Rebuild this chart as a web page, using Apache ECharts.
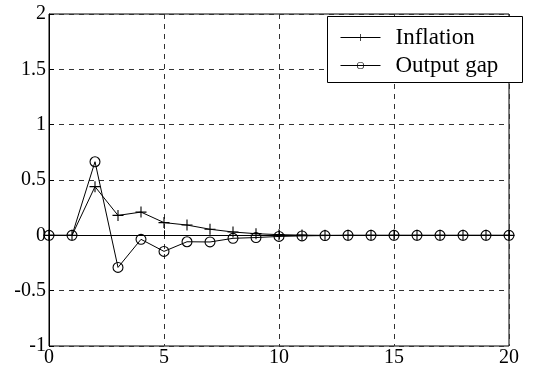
<!DOCTYPE html>
<html>
<head>
<meta charset="utf-8">
<script src="https://cdn.jsdelivr.net/npm/echarts@6/dist/echarts.min.js"></script>
<style>
html,body{margin:0;padding:0;background:#fff;}
#main{width:539px;height:378px;}
</style>
</head>
<body>
<div id="main"></div>
<script>
var periods = [0,1,2,3,4,5,6,7,8,9,10,11,12,13,14,15,16,17,18,19,20];
var inflation = [0,0,0.44,0.18,0.21,0.115,0.093,0.055,0.03,0.015,0.006,0.002,0,0,0,0,0,0,0,0,0];
var outputGap = [0,0,0.665,-0.29,-0.036,-0.145,-0.058,-0.06,-0.027,-0.02,-0.01,-0.005,-0.002,0,0,0,0,0,0,0,0];
var seriesNames = ['Inflation','Output gap'];

var font = 'Liberation Serif';
// marker shapes like matlab: '+' and an open ring (line shows through)
var plus = 'path://M4.5,0h1v10h-1z M0,4.5h10v1h-10z';
var ring = 'path://M10,5A5,5,0,1,1,0,5A5,5,0,1,1,10,5Z M9,5A4,4,0,1,0,1,5A4,4,0,1,0,9,5Z';

function pairs(ys){
  return periods.map(function(x,i){ return [x, ys[i]]; });
}

var myChart = echarts.init(document.getElementById('main'));
var dash = {show:true, lineStyle:{color:'#333', width:1, type:[5,5]}};

var option = {
  animation:false,
  backgroundColor:'#fff',
  grid:{left:49, right:30, top:14, bottom:32, show:true, borderColor:'#000', borderWidth:1},
  graphic:[{
    type:'rect', left:327, top:16, z:90,
    shape:{width:195, height:66},
    style:{fill:'#fff', stroke:'#000', lineWidth:1}
  }],
  legend:{
    orient:'vertical', left:340, top:25.5,
    padding:0,
    itemGap:4,
    itemWidth:40, itemHeight:9,
    z:100,
    lineStyle:{width:1},
    textStyle:{fontFamily:font, fontSize:23, lineHeight:24, color:'#000', padding:[0,0,0,10]},
    data:seriesNames
  },
  xAxis:{
    type:'value', min:0, max:20, interval:5,
    axisLine:{show:true, lineStyle:{color:'#000'}},
    axisTick:{show:true, inside:true, length:5, lineStyle:{color:'#000'}},
    axisLabel:{fontFamily:font, fontSize:20, color:'#000', margin:2},
    splitLine:dash
  },
  yAxis:{
    type:'value', min:-1, max:2, interval:0.5,
    axisLine:{show:true, lineStyle:{color:'#000'}},
    axisTick:{show:true, inside:true, length:5, lineStyle:{color:'#000'}},
    axisLabel:{fontFamily:font, fontSize:20, color:'#000', margin:3},
    splitLine:dash
  },
  series:[
    {
      name:seriesNames[0], type:'line', data:pairs(inflation),
      symbol:plus, symbolSize:11, showAllSymbol:true,
      lineStyle:{color:'#000', width:1},
      itemStyle:{color:'#000'},
      z:3
    },
    {
      name:seriesNames[1], type:'line', data:pairs(outputGap),
      symbol:ring, symbolSize:11, showAllSymbol:true,
      lineStyle:{color:'#000', width:1},
      itemStyle:{color:'#000'},
      z:2
    }
  ]
};
myChart.setOption(option);
</script>
</body>
</html>
